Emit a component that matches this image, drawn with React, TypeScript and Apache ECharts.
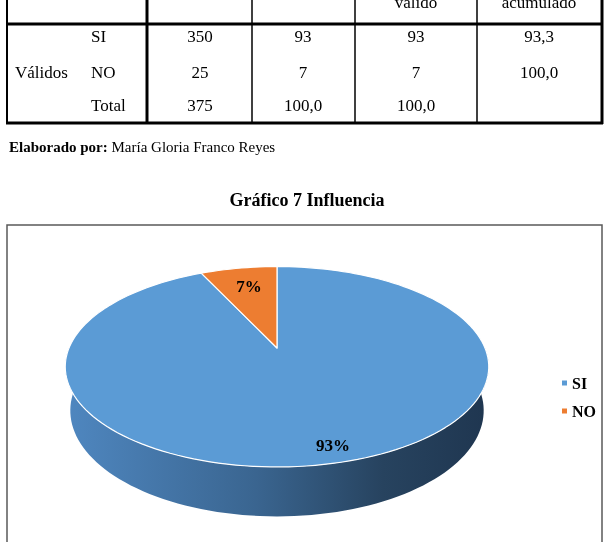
import React, { useEffect, useRef } from 'react';
import * as echarts from 'echarts';

// ---------- data ----------
const categories = ['SI', 'NO'];
const frecuencia = [350, 25];
const porcentaje = [93, 7];
const porcentajeValido = [93, 7];
const porcentajeAcumulado = ['93,3', '100,0'];
const totalRow = ['Total', '375', '100,0', '100,0', ''];
const headerLastLine = ['', '', 'válido', 'acumulado'];
const groupLabel = 'Válidos';
const autorLabel = 'Elaborado por:';
const autorName = ' María Gloria Franco Reyes';
const chartTitle = 'Gráfico 7 Influencia';
const pieLabels = porcentaje.map((v) => v + '%');

// ---------- style ----------
const FONT = '"Liberation Serif", "Times New Roman", serif';
const sliceColors = ['#5B9BD5', '#ED7D31'];
const colX = [7, 147, 252, 355, 477, 602];
const colW = [2, 3, 1.5, 1.5, 1.5, 3];
const colCenters = [200, 303, 416, 539];
const rowY = [36, 72, 105];
const PIE = { cx: 277, cy: 348, K: 208, alpha: (27.7 * Math.PI) / 180, D: 4.73, h: 0.24 };
const labelR = [0.87, 0.75];
const labelOffset = [[9, 0], [2, 1]];

function project(theta: number, r: number, z: number): number[] {
  const { cx, cy, K, alpha, D } = PIE;
  const X = r * Math.sin(theta);
  const Y = -r * Math.cos(theta);
  const sa = Math.sin(alpha);
  const ca = Math.cos(alpha);
  const v = Y * sa - z * ca;
  const w = Y * ca + z * sa;
  const s = D / (D - w);
  return [cx + K * X * s, cy + K * v * s];
}

function arc(t1: number, t2: number, z: number): number[][] {
  const n = Math.max(4, Math.ceil(((t2 - t1) * 180) / Math.PI / 2));
  const pts: number[][] = [];
  for (let k = 0; k <= n; k++) {
    pts.push(project(t1 + ((t2 - t1) * k) / n, 1, z));
  }
  return pts;
}

export default function App() {
  const ref = useRef<HTMLDivElement>(null);
  useEffect(() => {
    if (!ref.current) return;
    const chart = echarts.init(ref.current, null, { renderer: 'svg' });
    const total = porcentaje.reduce((a, b) => a + b, 0);
    let acc = 0;
    const starts = porcentaje.map((v) => {
      const s = acc;
      acc += v;
      return s;
    });

    const txt = (text: string, x: number, y: number, align: string, size = 17, weight = 'normal') => ({
      type: 'text',
      x,
      y,
      silent: true,
      style: {
        text,
        fill: '#000',
        font: `${weight} ${size}px ${FONT}`,
        align,
        verticalAlign: 'middle',
      },
    });

    const graphics: any[] = [];
    // table lines
    colX.forEach((x, i) => {
      graphics.push({
        type: 'line',
        silent: true,
        shape: { x1: x, y1: -2, x2: x, y2: 124 },
        style: { stroke: '#000', lineWidth: colW[i] },
      });
    });
    graphics.push({ type: 'line', silent: true, shape: { x1: 6, y1: 24, x2: 603, y2: 24 }, style: { stroke: '#000', lineWidth: 3 } });
    graphics.push({ type: 'line', silent: true, shape: { x1: 6, y1: 123, x2: 603, y2: 123 }, style: { stroke: '#000', lineWidth: 3 } });
    // header: last visible line of the header cells (cut at the top edge, as in the source)
    headerLastLine.forEach((t, j) => {
      if (t) graphics.push(txt(t, colCenters[j], 2, 'center'));
    });
    // body rows
    categories.forEach((c, i) => {
      const y = rowY[i];
      graphics.push(txt(c, 91, y, 'left'));
      graphics.push(txt(String(frecuencia[i]), colCenters[0], y, 'center'));
      graphics.push(txt(String(porcentaje[i]), colCenters[1], y, 'center'));
      graphics.push(txt(String(porcentajeValido[i]), colCenters[2], y, 'center'));
      graphics.push(txt(porcentajeAcumulado[i], colCenters[3], y, 'center'));
    });
    graphics.push(txt(totalRow[0], 91, rowY[2], 'left'));
    totalRow.slice(1).forEach((t, j) => {
      if (t) graphics.push(txt(t, colCenters[j], rowY[2], 'center'));
    });
    graphics.push(txt(groupLabel, 15, rowY[1], 'left'));
    // caption
    graphics.push({
      type: 'text',
      x: 9,
      y: 147,
      silent: true,
      style: {
        text: `{b|${autorLabel}}{r|${autorName}}`,
        verticalAlign: 'middle',
        rich: {
          b: { font: `bold 15px ${FONT}`, fill: '#000' },
          r: { font: `normal 15px ${FONT}`, fill: '#000' },
        },
      },
    });
    // title
    graphics.push(txt(chartTitle, 307, 200, 'center', 18, 'bold'));
    // chart frame
    graphics.push({
      type: 'rect',
      silent: true,
      shape: { x: 7, y: 225, width: 595, height: 340 },
      style: { fill: 'none', stroke: '#595959', lineWidth: 1.5 },
    });

    const renderSlice = (i: number) => (params: any, api: any) => {
      const start = api.value(0);
      const val = api.value(1);
      const t1 = (start / total) * Math.PI * 2;
      const t2 = ((start + val) / total) * Math.PI * 2;
      const color = api.visual('color');
      const children: any[] = [];
      // visible side (front half)
      const a = Math.max(t1, Math.PI / 2);
      const b = Math.min(t2, (Math.PI * 3) / 2);
      if (b > a) {
        const top = arc(a, b, 0);
        const bottom = arc(a, b, -PIE.h).reverse();
        children.push({
          type: 'polygon',
          shape: { points: top.concat(bottom) },
          style: {
            fill: {
              type: 'linear',
              x: 0,
              y: 0,
              x2: 1,
              y2: 0,
              colorStops: [
                { offset: 0, color: '#4f87c0' },
                { offset: 0.45, color: '#3a6590' },
                { offset: 0.75, color: '#27435f' },
                { offset: 1, color: '#1f3650' },
              ],
            },
            stroke: 'none',
          },
        });
      }
      // top face
      const pts = [[PIE.cx, PIE.cy]].concat(arc(t1, t2, 0));
      children.push({
        type: 'polygon',
        shape: { points: pts },
        style: { fill: color, stroke: '#ffffff', lineWidth: 1.2, lineJoin: 'round' },
      });
      // label
      const mid = (t1 + t2) / 2;
      const p = project(mid, labelR[i], 0);
      children.push({
        type: 'text',
        x: p[0] + labelOffset[i][0],
        y: p[1] + labelOffset[i][1],
        style: {
          text: pieLabels[i],
          fill: '#000',
          font: `bold 17px ${FONT}`,
          align: 'center',
          verticalAlign: 'middle',
        },
      });
      return { type: 'group', children };
    };

    chart.setOption({
      animation: false,
      color: sliceColors,
      legend: {
        orient: 'vertical',
        left: 557,
        top: 370,
        itemWidth: 5,
        itemHeight: 5,
        itemGap: 12,
        icon: 'rect',
        selectedMode: false,
        data: categories,
        textStyle: { fontFamily: FONT, fontSize: 16, fontWeight: 'bold', color: '#000' },
      },
      graphic: { elements: graphics },
      series: categories.map((name, i) => ({
        type: 'custom',
        name,
        coordinateSystem: 'none',
        silent: true,
        itemStyle: { color: sliceColors[i] },
        data: [{ name, value: [starts[i], porcentaje[i]] }],
        renderItem: renderSlice(i),
      })),
    });
    return () => chart.dispose();
  }, []);
  return <div ref={ref} style={{ position: 'fixed', left: 0, top: 0, width: 610, height: 542 }} />;
}
